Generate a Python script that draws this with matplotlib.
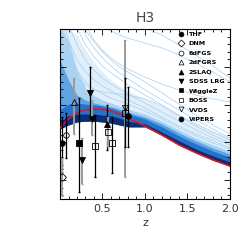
import matplotlib
matplotlib.use("Agg")
import matplotlib.pyplot as plt
from matplotlib.ticker import MultipleLocator

# redshift grid of the model curves
z = [0, 0.1, 0.2, 0.3, 0.4, 0.5, 0.6, 0.7, 0.8, 1.0, 1.2, 1.4, 1.6, 1.8, 2.0]

# best-fit curve (red)
best = [0.438, 0.462, 0.478, 0.486, 0.488, 0.487, 0.483, 0.475, 0.464, 0.443, 0.419, 0.393, 0.372, 0.353, 0.337]

# envelopes of the model family (lower edge shared)
band_low = [0.436, 0.446, 0.454, 0.456, 0.456, 0.454, 0.451, 0.446, 0.441, 0.441, 0.419, 0.393, 0.372, 0.353, 0.337]
band_sheaf = [0.700, 0.700, 0.684, 0.644, 0.613, 0.586, 0.565, 0.549, 0.536, 0.515, 0.494, 0.470, 0.449, 0.430, 0.414]
band_wide = [0.700, 0.671, 0.591, 0.544, 0.523, 0.512, 0.504, 0.496, 0.488, 0.475, 0.456, 0.433, 0.411, 0.393, 0.377]
band_mid = [0.618, 0.565, 0.525, 0.512, 0.504, 0.499, 0.494, 0.488, 0.480, 0.467, 0.449, 0.425, 0.404, 0.385, 0.369]
band_inner = [0.486, 0.501, 0.504, 0.501, 0.499, 0.496, 0.491, 0.483, 0.475, 0.462, 0.441, 0.417, 0.396, 0.377, 0.361]
band_core = [0.454, 0.470, 0.475, 0.475, 0.475, 0.472, 0.470, 0.464, 0.456, 0.449, 0.427, 0.404, 0.382, 0.364, 0.348]

# a few of the outlying model curves
outliers = [
    [0.883, 0.803, 0.737, 0.684, 0.650, 0.623, 0.602, 0.584, 0.568, 0.539, 0.512, 0.486, 0.459, 0.435, 0.411],
    [0.830, 0.764, 0.703, 0.658, 0.626, 0.602, 0.584, 0.568, 0.552, 0.525, 0.499, 0.472, 0.449, 0.427, 0.406],
    [0.777, 0.711, 0.658, 0.618, 0.591, 0.570, 0.554, 0.541, 0.528, 0.504, 0.480, 0.456, 0.433, 0.411, 0.393],
    [0.750, 0.671, 0.618, 0.586, 0.565, 0.549, 0.536, 0.523, 0.512, 0.491, 0.467, 0.443, 0.422, 0.404, 0.385],
    [0.936, 0.883, 0.830, 0.777, 0.737, 0.711, 0.695, 0.684, 0.676, 0.663, 0.650, 0.631, 0.610, 0.586, 0.560],
    [1.041, 0.962, 0.896, 0.843, 0.803, 0.777, 0.756, 0.737, 0.724, 0.703, 0.684, 0.658, 0.631, 0.602, 0.570],
    [0.856, 0.790, 0.737, 0.697, 0.666, 0.639, 0.618, 0.599, 0.586, 0.560, 0.531, 0.501, 0.472, 0.446, 0.422],
    [0.737, 0.644, 0.591, 0.560, 0.541, 0.528, 0.517, 0.509, 0.501, 0.483, 0.462, 0.438, 0.417, 0.398, 0.382],
    [0.724, 0.631, 0.578, 0.552, 0.539, 0.533, 0.531, 0.528, 0.525, 0.515, 0.496, 0.470, 0.443, 0.419, 0.398],
    [0.909, 0.830, 0.764, 0.711, 0.671, 0.644, 0.623, 0.607, 0.594, 0.573, 0.554, 0.539, 0.525, 0.515, 0.507],
]

# legend entries
surveys = ["THF", "DNM", "6dFGS", "2dFGRS", "2SLAQ", "SDSS LRG", "WiggleZ", "BOSS", "VVDS", "VIPERS"]
markers = ["o", "D", "o", "^", "^", "v", "s", "s", "v", "o"]
filled = [True, False, False, False, True, True, True, False, False, True]

# measurements
pt_survey = ["THF", "DNM", "6dFGS", "2dFGRS", "WiggleZ", "SDSS LRG", "SDSS LRG", "SDSS LRG",
             "BOSS", "2SLAQ", "BOSS", "BOSS", "BOSS", "VVDS", "VIPERS"]
pt_z = [0.02, 0.02, 0.067, 0.17, 0.22, 0.26, 0.35, 0.38, 0.41, 0.55, 0.57, 0.61, 0.77, 0.77, 0.80]
pt_val = [0.398, 0.308, 0.419, 0.507, 0.398, 0.353, 0.531, 0.462, 0.390, 0.449, 0.427, 0.398, 0.478, 0.491, 0.470]
pt_lo = [0.07, 0.05, 0.06, 0.085, 0.13, 0.063, 0.067, 0.043, 0.082, 0.069, 0.04, 0.079, 0.17, 0.103, 0.082]
pt_hi = [0.07, 0.05, 0.059, 0.063, 0.12, 0.058, 0.068, 0.05, 0.082, 0.05, 0.04, 0.069, 0.193, 0.079, 0.076]
pt_grey = [False, True, False, True, False, True, False, True, False, False, True, False, True, False, False]

fig = plt.figure(figsize=(2.42, 2.42), dpi=100)
ax = fig.add_axes([0.248, 0.178, 0.702, 0.702])

ax.fill_between(z, band_low, band_sheaf, color="#e1effb", lw=0, zorder=0.9)
for c in outliers:
    ax.plot(z, c, color="#a4cff1", lw=0.5, zorder=1)
ax.fill_between(z, band_low, band_wide, color="#a9d2f3", lw=0, zorder=1.1)
ax.fill_between(z, band_low, band_mid, color="#5fa3e2", lw=0, zorder=1.2)
ax.fill_between(z, band_low, band_inner, color="#2373cc", lw=0, zorder=1.3)
ax.fill_between(z, band_low, band_core, color="#0b2c78", lw=0, zorder=1.4)
ax.plot(z, best, color="#e8141c", lw=1.1, zorder=3)

for i in range(len(pt_z)):
    k = surveys.index(pt_survey[i])
    bar_col = "#9a9a9a" if pt_grey[i] else "black"
    ax.errorbar(pt_z[i], pt_val[i], yerr=[[pt_lo[i]], [pt_hi[i]]], fmt="none",
                ecolor=bar_col, elinewidth=1.4 if pt_grey[i] else 0.9, capsize=1, zorder=4)
    ax.plot(pt_z[i], pt_val[i], marker=markers[k], ms=4, mec="black", mew=0.6,
            mfc="black" if filled[k] else "none", ls="none", zorder=5)

handles = []
for k in range(len(surveys)):
    h, = ax.plot([], [], marker=markers[k], ms=3.5, mec="black", mew=0.5,
                 mfc="black" if filled[k] else "none", ls="none", label=surveys[k])
    handles.append(h)
ax.legend(handles=handles, loc="upper left", bbox_to_anchor=(0.70, 0.985), frameon=False,
          prop={"weight": "bold", "size": 4.6}, handlelength=0.8,
          handletextpad=0.7, labelspacing=0.62, borderpad=0, borderaxespad=0)

ax.set_xlim(0, 2.0)
ax.set_ylim(0.25, 0.70)
ax.xaxis.set_major_locator(MultipleLocator(0.5))
ax.xaxis.set_minor_locator(MultipleLocator(0.1))
ax.yaxis.set_major_locator(MultipleLocator(0.1))
ax.yaxis.set_minor_locator(MultipleLocator(0.02))
ax.tick_params(which="both", direction="in", top=True, right=True, width=0.6, labelleft=False)
ax.tick_params(which="major", length=4)
ax.tick_params(which="minor", length=2)
ax.set_xticks([0.5, 1.0, 1.5, 2.0])
ax.set_xticklabels(["0.5", "1.0", "1.5", "2.0"], fontsize=8, color="#333333")
for s in ax.spines.values():
    s.set_linewidth(0.8)

ax.set_xlabel("z", fontsize=8, color="#333333", labelpad=3)
ax.set_title("H3", fontsize=10, color="#444444", pad=5)

fig.savefig("out.png", dpi=100)
